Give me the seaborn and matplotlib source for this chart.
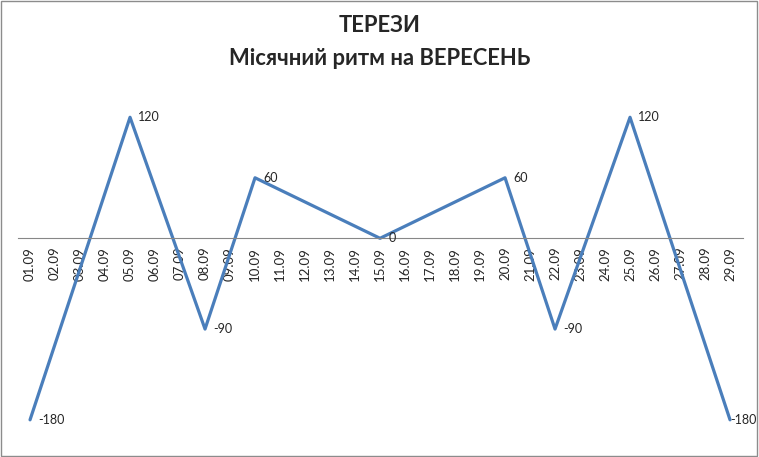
import pandas as pd
import seaborn as sns
import matplotlib.pyplot as plt

# --- Dati ---
days = ["%02d.09" % d for d in range(1, 30)]
key_days = ["01.09", "05.09", "08.09", "10.09", "15.09", "20.09", "22.09", "25.09", "29.09"]
key_values = [-180, 120, -90, 60, 0, 60, -90, 120, -180]

title = "ТЕРЕЗИ\nМісячний ритм на ВЕРЕСЕНЬ"

df = pd.DataFrame({"day": key_days, "value": key_values})
df["pos"] = [days.index(d) for d in df["day"]]

sns.set_style("white")
plt.rcParams["font.family"] = ["Lato", "DejaVu Sans"]

fig = plt.figure(figsize=(7.59, 4.57), dpi=100)
ax = fig.add_axes([0.0231, 0.0372, 0.9552, 0.7724])

sns.lineplot(data=df, x="pos", y="value", color="#4A7EBB", linewidth=2.3, ax=ax)

for i, r in df.iterrows():
    dx = 0 if i == len(df) - 1 else 6
    ax.annotate(str(r["value"]), (r["pos"], r["value"]), xytext=(dx, 0),
                textcoords="offset points", va="center", ha="left", fontsize=9)

# spine prima, poi le etichette (set_position resetta i tick)
for s in ["top", "left", "right"]:
    ax.spines[s].set_visible(False)
ax.spines["bottom"].set_position(("data", 0))
ax.spines["bottom"].set_color("#878787")
ax.spines["bottom"].set_linewidth(0.8)

ax.set_xlim(-0.5, len(days) - 0.5)
ax.set_ylim(-200, 150)
ax.set_xticks(range(len(days)))
ax.set_xticklabels(days, rotation=90, fontsize=9.5, va="top", ha="center")
ax.set_yticks([])
ax.set_xlabel("")
ax.set_ylabel("")
ax.tick_params(axis="x", length=0, pad=6)

fig.text(0.5, 0.968, title, ha="center", va="top", fontsize=15.8,
         fontweight="bold", linespacing=1.7)

fig.patches.append(plt.Rectangle((0.001, 0.002), 0.997, 0.996, transform=fig.transFigure,
                                 fill=False, edgecolor="#8c8c8c", linewidth=1))

plt.savefig("out.png", dpi=100)
plt.close()
